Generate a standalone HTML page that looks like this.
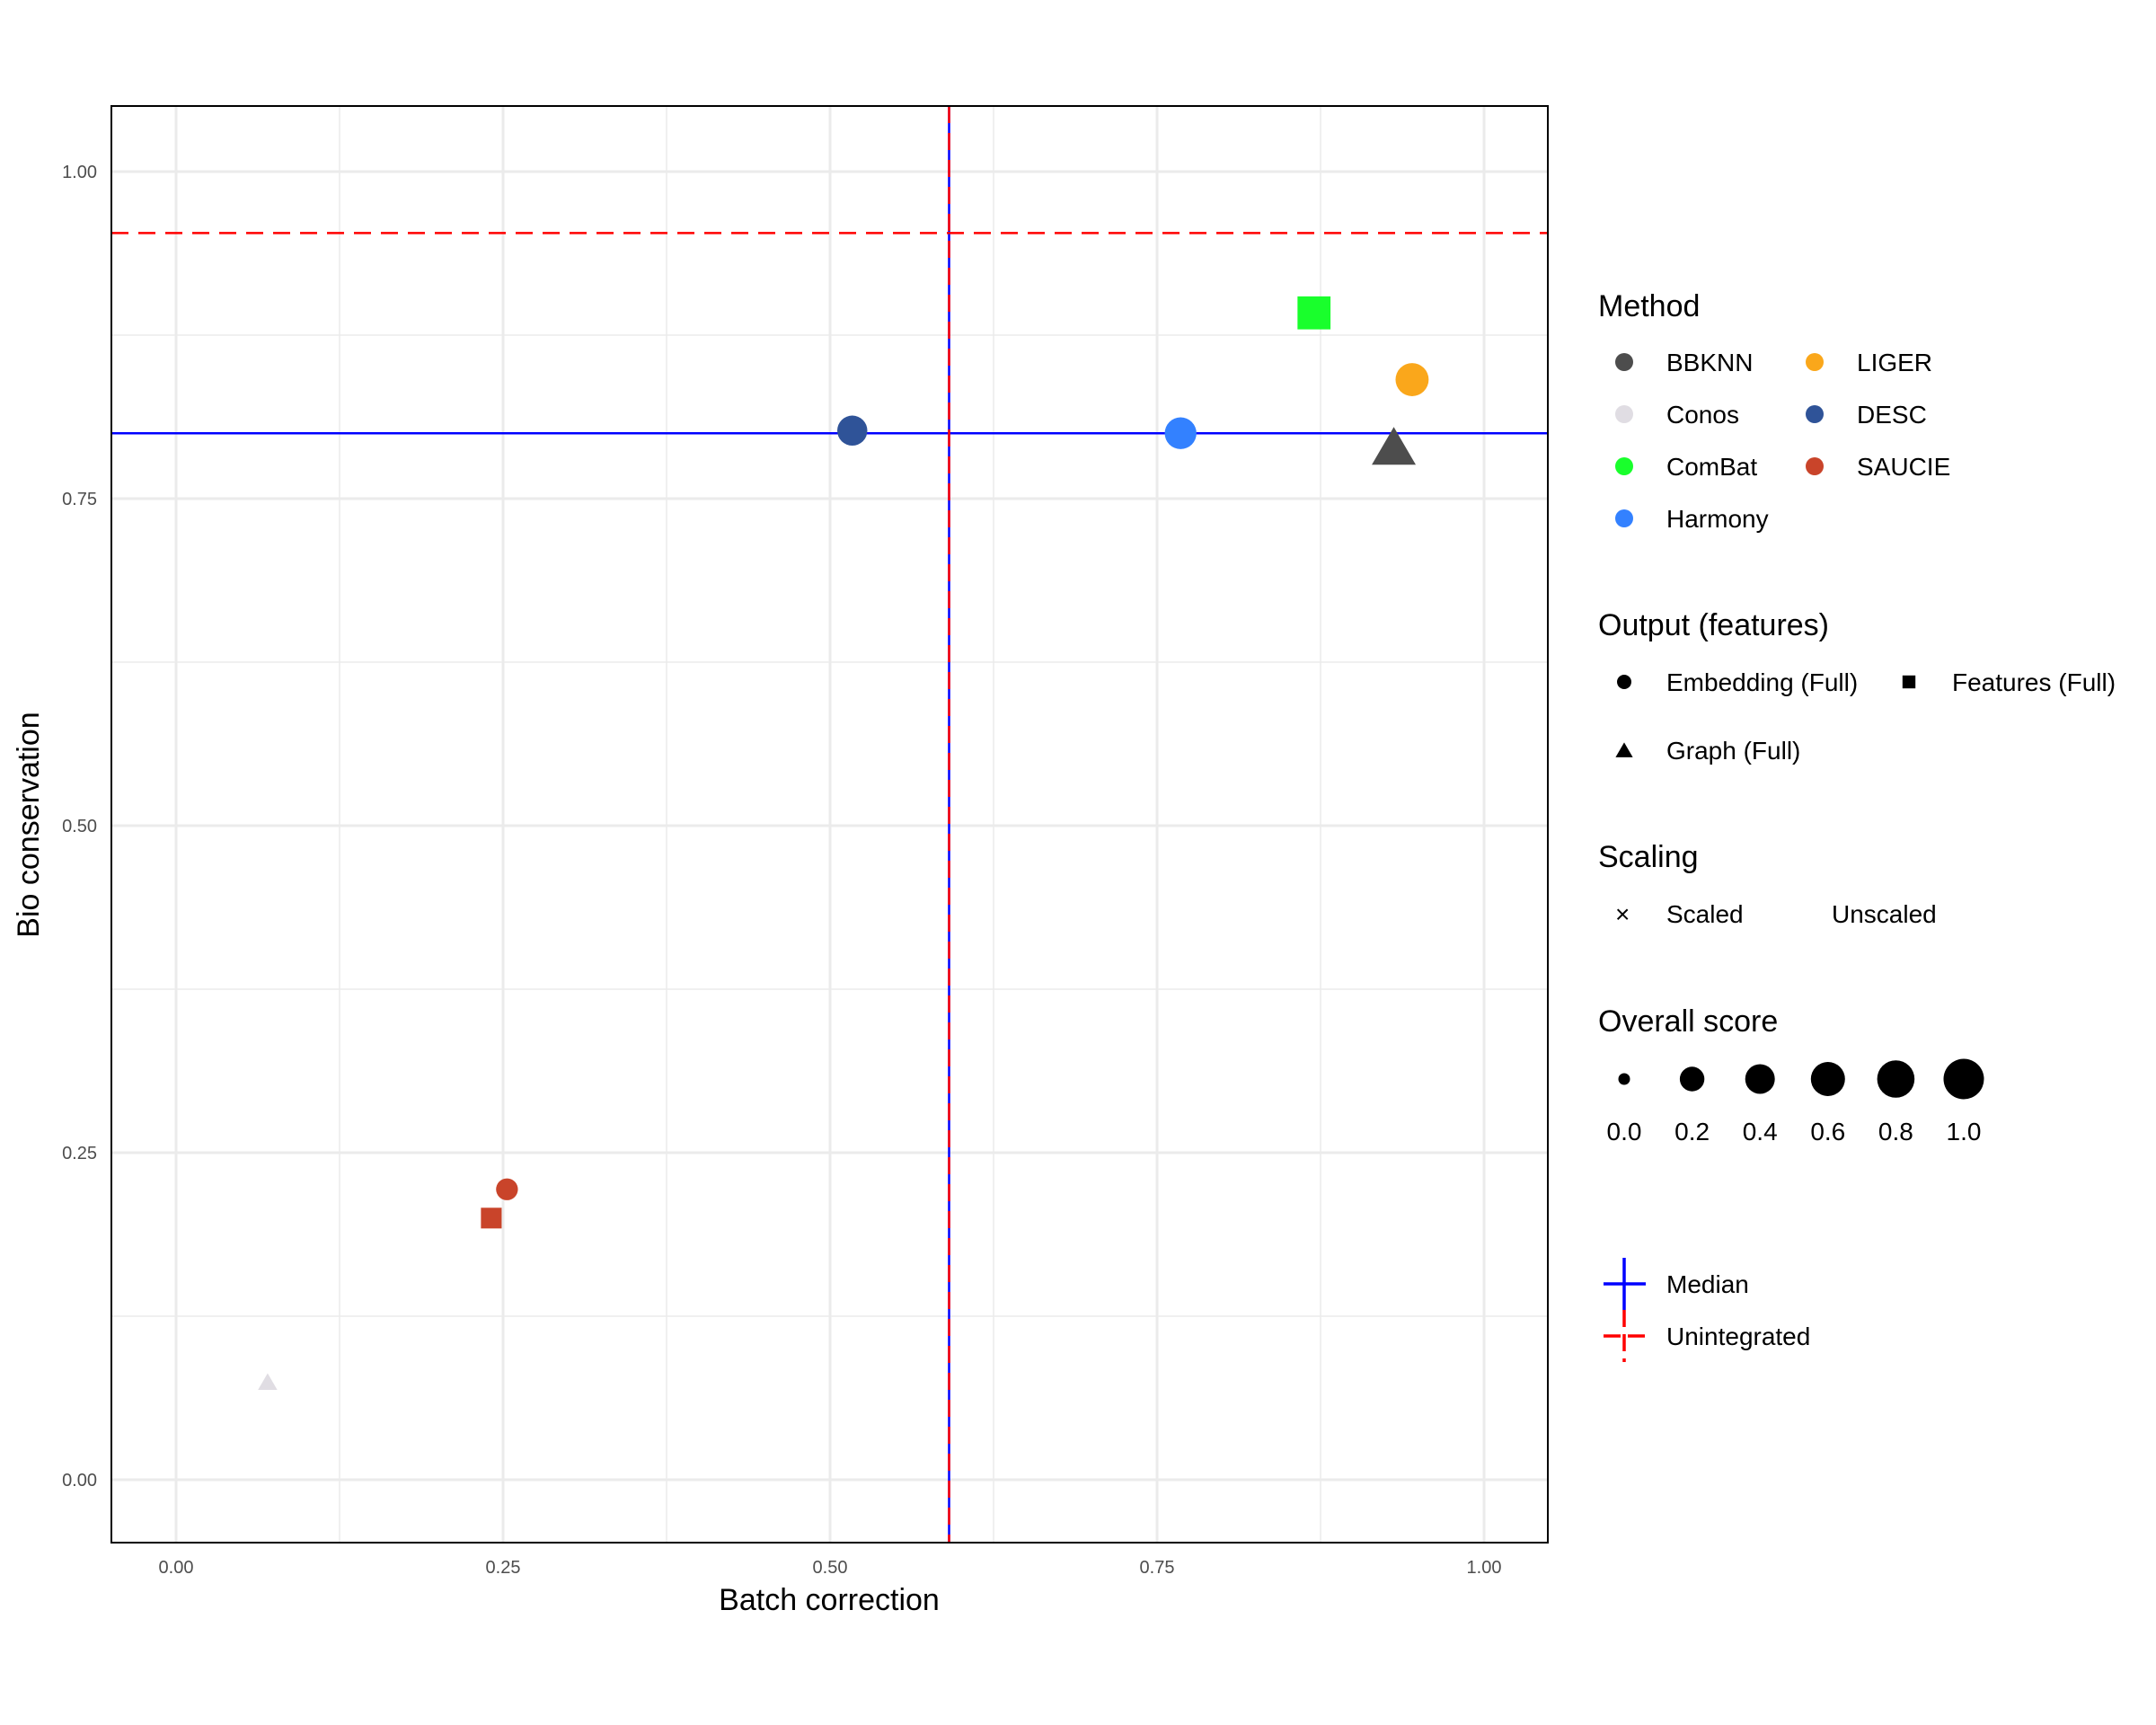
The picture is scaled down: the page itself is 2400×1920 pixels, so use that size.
<!DOCTYPE html>
<html><head><meta charset="utf-8"><style>
html,body{margin:0;padding:0;background:#fff;}
svg{display:block;font-family:"Liberation Sans",sans-serif;}
</style></head><body>
<svg width="2400" height="1920" viewBox="0 0 2400 1920">
<g id="grid"></g>
<g id="refs"></g>
<g id="pts"></g>
<rect x="124" y="118" width="1599" height="1599" fill="none" stroke="#000" stroke-width="2"/>
<g id="ticks" font-size="20" fill="#4d4d4d"></g>
<text x="923" y="1792" font-size="34" text-anchor="middle">Batch correction</text>
<text transform="translate(43,918) rotate(-90)" font-size="34" text-anchor="middle">Bio conservation</text>
<g id="legend" font-size="28"></g>
</svg>
<script>
const methods=["DESC","Harmony","ComBat","LIGER","BBKNN","SAUCIE","SAUCIE","Conos"];
const batchScores=[0.517,0.768,0.870,0.945,0.931,0.253,0.241,0.070];
const bioScores=[0.802,0.800,0.892,0.841,0.788,0.222,0.200,0.074];
const outputs=["embed","embed","feat","embed","graph","embed","feat","graph"];
const overall=[0.5,0.58,0.84,0.65,0.84,0.17,0.21,0.0];
const medianX=0.591, medianY=0.800, unintX=0.591, unintY=0.953;
const xTicks=["0.00","0.25","0.50","0.75","1.00"];
const yTicks=["0.00","0.25","0.50","0.75","1.00"];
const colors={BBKNN:"#4d4d4d",Conos:"#e0dde3",ComBat:"#19ff2c",Harmony:"#3381ff",LIGER:"#faa71b",DESC:"#2f5398",SAUCIE:"#c9442a"};
const X=v=>196+v*1456, Y=v=>1647-v*1456;
const R=s=>Math.sqrt(80+400*s);
const NS="http://www.w3.org/2000/svg";
function mk(p,tag,attrs){const e=document.createElementNS(NS,tag);for(const k in attrs)e.setAttribute(k,attrs[k]);p.appendChild(e);return e;}
const grid=document.getElementById('grid');
for(let i=0;i<=8;i++){const v=i*0.125;const major=i%2==0;
 let l=mk(grid,'line',{x1:X(v),x2:X(v),y1:118,y2:1717,stroke:'#ebebeb','stroke-width':major?3:1.5});
 
 
 l=mk(grid,'line',{y1:Y(v),y2:Y(v),x1:124,x2:1723,stroke:'#ebebeb','stroke-width':major?3:1.5});
 
 }
const refs=document.getElementById('refs');
let e;
e=mk(refs,'line',{x1:124,x2:1723,y1:Y(medianY),y2:Y(medianY),stroke:'#0000ff','stroke-width':2.5});


e=mk(refs,'line',{y1:118,y2:1717,x1:X(medianX),x2:X(medianX),stroke:'#0000ff','stroke-width':2.5});


e=mk(refs,'line',{x1:124,x2:1723,y1:Y(unintY),y2:Y(unintY),stroke:'#ff0000','stroke-width':2.5,'stroke-dasharray':'19 11'});


e=mk(refs,'line',{y1:118,y2:1717,x1:X(unintX),x2:X(unintX),stroke:'#ff0000','stroke-width':2.5,'stroke-dasharray':'19 11'});


function shape(p,type,cx,cy,r,fill){
 if(type==='embed')return mk(p,'circle',{cx,cy,r,fill});
 if(type==='feat'){const h=r*0.9;return mk(p,'rect',{x:cx-h,y:cy-h,width:2*h,height:2*h,fill});}
 const w=r*1.2;return mk(p,'polygon',{points:`${cx},${cy-w*1.0} ${cx+w},${cy+w*0.72} ${cx-w},${cy+w*0.72}`,fill});}
const pts=document.getElementById('pts');
methods.forEach((m,i)=>{const s=shape(pts,outputs[i],X(batchScores[i]),Y(bioScores[i]),R(overall[i]),colors[m]);
 
 });
const ticks=document.getElementById('ticks');
xTicks.forEach(t=>{const el=mk(ticks,'text',{x:X(+t),y:1751,'text-anchor':'middle'});el.textContent=t;
 
 });
yTicks.forEach(t=>{const el=mk(ticks,'text',{x:108,y:Y(+t)+7,'text-anchor':'end'});el.textContent=t;
 
 });
const lg=document.getElementById('legend');
function txt(x,y,s,size,name){const t=mk(lg,'text',{x,y,'font-size':size});t.textContent=s;
 
 return t;}
txt(1779,352,'Method',34,'legend-title-method');
const mcol=[["BBKNN","Conos","ComBat","Harmony"],["LIGER","DESC","SAUCIE"]];
mcol.forEach((col,ci)=>col.forEach((m,ri)=>{const y=403+ri*58;const kx=ci?2020:1808;
 const c=mk(lg,'circle',{cx:kx,cy:y,r:10,fill:colors[m]});
 
 
 txt(kx+47,y+10,m,28,'legend-label-'+m.toLowerCase());}));
txt(1779,707,'Output (features)',34,'legend-title-output');
e=shape(lg,'embed',1808,759,8,'#000');


txt(1855,769,'Embedding (Full)',28,'legend-label-embedding');
e=shape(lg,'feat',2125,759,8,'#000');


txt(2173,769,'Features (Full)',28,'legend-label-features');
e=shape(lg,'graph',1808,836,8,'#000');


txt(1855,845,'Graph (Full)',28,'legend-label-graph');
txt(1779,965,'Scaling',34,'legend-title-scaling');
txt(1798,1027,'×',28,'legend-key-scaled');
txt(1855,1027,'Scaled',28,'legend-label-scaled');
txt(2039,1027,'Unscaled',28,'legend-label-unscaled');
txt(1779,1148,'Overall score',34,'legend-title-overall');
const sizeVals=[0,0.2,0.4,0.6,0.8,1.0];
const sizeR=[6.5,13.7,16.5,19,20.8,22.5];
sizeVals.forEach((v,i)=>{const x=1808+i*75.6;
 const c=mk(lg,'circle',{cx:x,cy:1201,r:sizeR[i],fill:'#000'});
 
 
 const t=txt(x,1269,v.toFixed(1),28,'legend-size-label');t.setAttribute('text-anchor','middle');});
[[1785,1429,1832,1429,'#0000ff',''],[1808,1400,1808,1458,'#0000ff',''],[1808,1458,1808,1516,'#ff0000','19 8'],[1785,1487,1832,1487,'#ff0000','19 8']].forEach(a=>{
 const l=mk(lg,'line',{x1:a[0],y1:a[1],x2:a[2],y2:a[3],stroke:a[4],'stroke-width':3.5,'stroke-dasharray':a[5]||'none'});
 
 });
txt(1855,1439,'Median',28,'legend-label-median');
txt(1855,1497,'Unintegrated',28,'legend-label-unintegrated');
</script>
</body></html>
